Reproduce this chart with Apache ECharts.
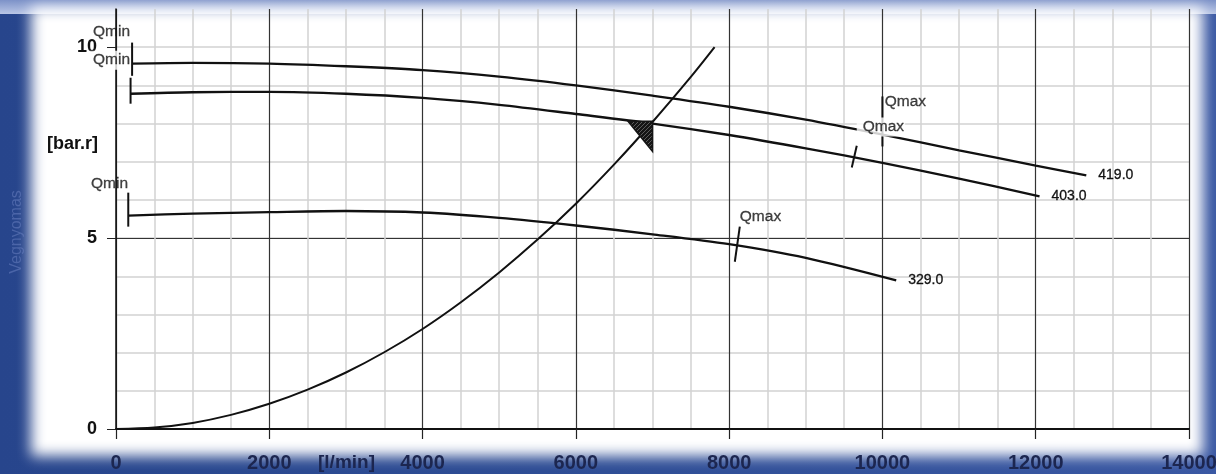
<!DOCTYPE html>
<html>
<head>
<meta charset="utf-8">
<script src="https://cdn.jsdelivr.net/npm/echarts@6/dist/echarts.min.js"></script>
<style>
  html,body{margin:0;padding:0;}
  #wrap{position:relative;width:1216px;height:474px;overflow:hidden;
    background:linear-gradient(90deg,#27458c 0%,#2f4e96 50%,#3a58a3 100%);}
  #topband{position:absolute;left:0;top:0;width:1216px;height:14px;background:linear-gradient(180deg,#7d92c8,#b9c6e6);}
  #paper{position:absolute;left:31px;top:7px;width:1172px;height:449px;background:#fff;filter:blur(7px);}
  #chart{position:absolute;left:0;top:0;width:1216px;height:474px;}
</style>
</head>
<body>
<div id="wrap">
  <div id="topband"></div>
  <div id="paper"></div>
  <div id="chart"></div>
</div>
<script>
// ---- data ----
const xRange = [0, 14000];
const yRange = [0, 11];
const yTickValues = [0, 5, 10];

const curveNames = ['419.0', '403.0', '329.0'];
const curve419 = [[210,9.57],[1000,9.59],[2000,9.57],[3000,9.50],[4000,9.40],[5000,9.23],[6000,9.00],[7000,8.73],[8000,8.44],[9000,8.10],[10000,7.71],[11000,7.30],[12000,6.90],[12660,6.64]];
const curve403 = [[190,8.78],[1000,8.82],[2000,8.83],[3000,8.78],[4000,8.67],[5000,8.49],[6000,8.25],[7000,8.00],[8000,7.70],[9000,7.35],[10000,6.97],[11000,6.56],[12050,6.09]];
const curve329 = [[160,5.59],[1000,5.64],[2000,5.68],[3000,5.71],[4000,5.67],[5000,5.53],[6000,5.33],[7000,5.10],[8000,4.84],[9000,4.48],[10180,3.89]];
const systemCurve = [[0,0],[500,0.04],[1000,0.16],[1500,0.37],[2000,0.66],[2500,1.03],[3000,1.48],[3500,2.01],[4000,2.62],[4500,3.32],[5000,4.10],[5500,4.96],[6000,5.90],[6500,6.93],[7000,8.04],[7500,9.22],[7810,10.0]];

// Qmin / Qmax tick marks: [start, end]
const qTicks = [
  [[210,10.12],[210,9.25]],
  [[190,9.20],[190,8.52]],
  [[160,6.19],[160,5.30]],
  [[10000,8.71],[10000,7.40]],
  [[9665,7.42],[9600,6.85]],
  [[8074,4.38],[8139,5.30]]
];
// annotation texts with their data anchor [x, y]
const qTexts = ['Qmin','Qmin','Qmin','Qmax','Qmax','Qmax'];
const qAnchors = [[183,10.40],[196,9.66],[157,6.43],[10030,8.56],[9665,7.91],[8139,5.56]];
const qAlign = ['right','right','right','left','left','left'];
const qBoxed = [false,true,false,false,true,false];

// operating point hatched triangle
const opTriangle = [[6680,8.06],[7000,8.06],[7000,7.27]];

// ---- chart ----
const chart = echarts.init(document.getElementById('chart'), null, {renderer:'canvas'});

const pat = document.createElement('canvas');
pat.width = 4; pat.height = 4;
(function(){
  const c = pat.getContext('2d');
  c.fillStyle = '#151515'; c.fillRect(0,0,4,4);
  c.strokeStyle = '#7a7a7a'; c.lineWidth = 0.7;
  c.beginPath(); c.moveTo(0,4); c.lineTo(4,0); c.stroke();
})();

const FONT = "'Liberation Sans', Arial, sans-serif";
const curveStyle = {color:'#111', width:2.3};

const series = [];
[curve419, curve403, curve329].forEach((d, i) => {
  series.push({
    type:'line', name: curveNames[i], data: d, yAxisIndex:1,
    showSymbol:false, symbol:'none', smooth:0.3,
    lineStyle: curveStyle, z:3,
    endLabel:{show:true, formatter:'{a}', distance:12, color:'#111', fontSize:14, fontFamily:FONT,
      textBorderColor:'#111', textBorderWidth:0.3}
  });
});
series.push({
  type:'line', name:'system', data: systemCurve, yAxisIndex:1,
  showSymbol:false, symbol:'none', smooth:0.3, lineStyle:{color:'#111', width:2}, z:3
});
qTicks.forEach(t => {
  series.push({type:'line', data:t, yAxisIndex:1, showSymbol:false, symbol:'none',
    lineStyle:{color:'#111', width:2}, z:4, silent:true});
});
series.push({
  type:'scatter', yAxisIndex:1, symbolSize:0, z:6, silent:true,
  data: qAnchors.map((a, i) => ({
    value:a,
    label:{show:true, formatter: qTexts[i], position: qAlign[i]==='right' ? 'left' : 'right', distance:0,
      color:'#111', fontSize:15.5, fontFamily:FONT, textBorderColor:'#111', textBorderWidth:0.3,
      backgroundColor: qBoxed[i] ? '#fff' : 'transparent', padding: qBoxed[i] ? [2,1,1,6] : 0}
  }))
});
series.push({
  type:'custom', yAxisIndex:1, z:5, data:[0], silent:true,
  renderItem:(params, api) => ({
    type:'polygon',
    shape:{points: opTriangle.map(p => api.coord(p))},
    style:{fill:{image:pat, repeat:'repeat'}, stroke:'#151515', lineWidth:1.5}
  })
});

chart.setOption({
  animation:false,
  backgroundColor:'transparent',
  grid:{left:116, right:27, top:9, bottom:45, containLabel:false, outerBoundsMode:'none'},
  xAxis:{
    type:'value', min:xRange[0], max:xRange[1], interval:2000,
    axisLine:{show:true, onZero:false, lineStyle:{color:'#111', width:2}},
    axisTick:{show:true, length:10, lineStyle:{color:'#222', width:1.2}},
    axisLabel:{color:'#1c2650', fontSize:20, fontWeight:'bold', fontFamily:FONT, margin:24,
      formatter: v => String(v), hideOverlap:false},
    splitLine:{show:true, lineStyle:{color:'#333', width:1.2}},
    minorTick:{show:false, splitNumber:4},
    minorSplitLine:{show:true, lineStyle:{color:'#d2d2d2', width:1.5}}
  },
  yAxis:[
    {type:'value', position:'left', min:yRange[0], max:yRange[1], interval:1,
     axisLine:{show:false}, axisTick:{show:false}, axisLabel:{show:false},
     splitLine:{show:true, showMaxLine:false, lineStyle:{color:'#d2d2d2', width:1.5}}},
    {type:'value', position:'left', min:yRange[0], max:yRange[1], interval:5,
     axisLine:{show:true, onZero:false, lineStyle:{color:'#111', width:1.5}},
     axisTick:{show:true, length:9, customValues:yTickValues, lineStyle:{color:'#222'}},
     axisLabel:{show:true, customValues:yTickValues, color:'#111', fontSize:18, fontWeight:'bold', fontFamily:FONT, margin:19,
       formatter: v => String(v)},
     splitLine:{show:true, showMaxLine:false, lineStyle:{color:'#333', width:1.2}}}
  ],
  graphic:[
    {type:'text', left:47, top:135, style:{text:'[bar.r]', fill:'#111', font:"bold 18px 'Liberation Sans', Arial, sans-serif"}},
    {type:'text', left:318, top:453, style:{text:'[l/min]', fill:'#1c2650', font:"bold 19px 'Liberation Sans', Arial, sans-serif"}},
    {type:'text', x:17, y:232, rotation:Math.PI/2,
     style:{text:'Vegnyomas', fill:'rgba(110,132,195,0.5)', font:"16px 'Liberation Sans', Arial, sans-serif", align:'center', verticalAlign:'middle'}}
  ],
  series: series
});
</script>
</body>
</html>
